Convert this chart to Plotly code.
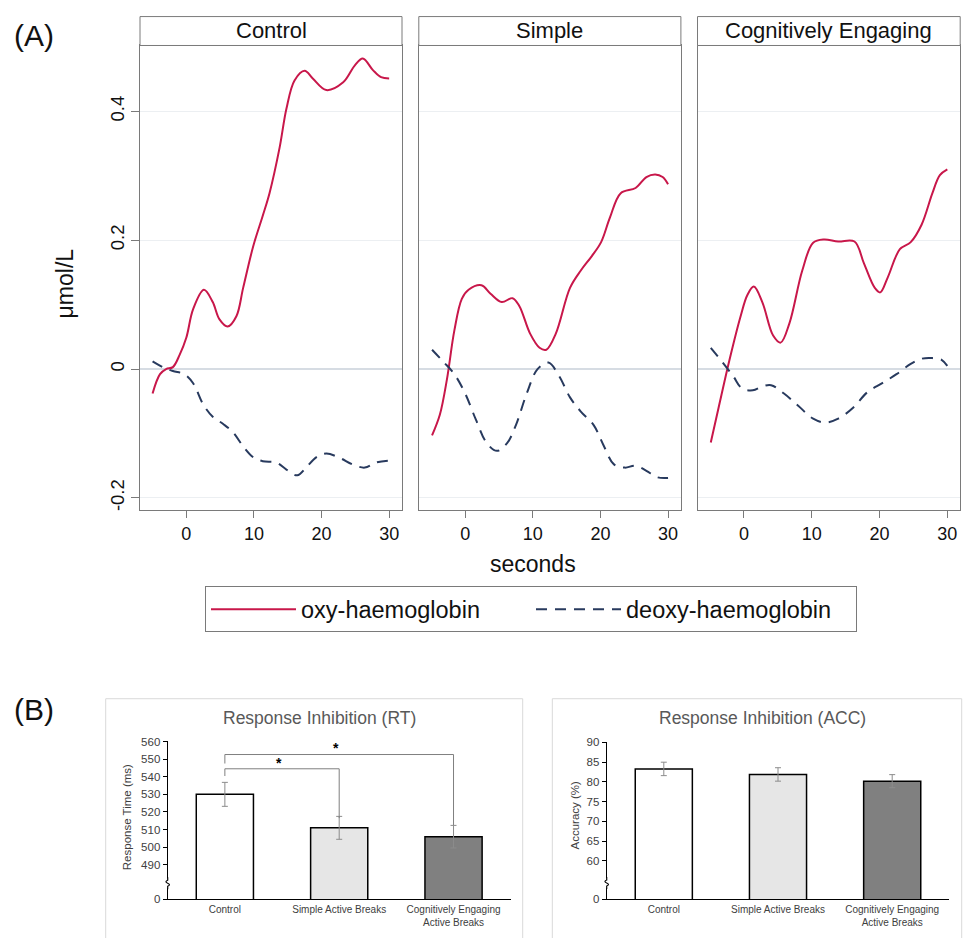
import plotly.graph_objects as go

W, H = 967, 938
FONT = "Liberation Sans, Arial, sans-serif"

# ---------------- Panel A data (seconds, umol/L) ----------------
PANELS = ["Control", "Simple", "Cognitively Engaging"]

CTRL_OXY_T = [-5.0, -3.9, -3.0, -2.0, -1.0, 0.0, 1.0, 2.6, 3.9, 4.9, 6.1, 7.4, 8.4, 9.9, 11.3, 12.3,
              13.8, 14.8, 16.0, 17.5, 18.7, 20.7, 23.2, 24.9, 26.1, 27.6, 28.8, 30.0]
CTRL_OXY = [-0.038, -0.008, 0.0, 0.003, 0.022, 0.049, 0.093, 0.123, 0.104, 0.077, 0.066, 0.082, 0.126,
            0.191, 0.238, 0.273, 0.344, 0.404, 0.448, 0.463, 0.451, 0.433, 0.445, 0.471, 0.482, 0.464,
            0.453, 0.451]
CTRL_DEOXY_T = [-5.0, -3.5, -2.0, -0.3, 1.0, 2.5, 3.9, 5.4, 6.9, 8.4, 9.9, 11.3, 13.3, 14.8, 16.4,
                17.7, 19.2, 20.7, 22.7, 24.6, 26.4, 28.1, 30.0]
CTRL_DEOXY = [0.012, 0.003, -0.003, -0.008, -0.022, -0.055, -0.074, -0.085, -0.098, -0.120, -0.137,
              -0.143, -0.145, -0.156, -0.165, -0.153, -0.137, -0.131, -0.138, -0.148, -0.153, -0.145,
              -0.142]

SIMP_OXY_T = [-4.9, -3.75, -2.7, -1.6, -0.5, 0.5, 2.4, 3.75, 5.4, 7.0, 8.0, 9.6, 11.0, 12.0, 13.4,
              15.5, 17.1, 18.7, 20.1, 21.4, 23.0, 25.2, 26.8, 28.1, 29.2, 30.0]
SIMP_OXY = [-0.103, -0.071, -0.016, 0.060, 0.109, 0.123, 0.130, 0.117, 0.104, 0.110, 0.098, 0.055,
            0.033, 0.030, 0.055, 0.126, 0.153, 0.175, 0.197, 0.235, 0.273, 0.281, 0.298, 0.302, 0.298,
            0.287]
SIMP_DEOXY_T = [-4.9, -3.2, -1.6, 0.0, 1.6, 3.2, 4.7, 6.2, 7.5, 9.1, 10.7, 12.3, 13.9, 15.5, 17.1,
                19.0, 20.4, 22.0, 23.6, 25.2, 26.8, 28.4, 30.0]
SIMP_DEOXY = [0.030, 0.011, -0.008, -0.038, -0.079, -0.115, -0.127, -0.115, -0.087, -0.038, 0.0,
              0.010, -0.011, -0.044, -0.066, -0.087, -0.117, -0.148, -0.153, -0.150, -0.158, -0.168,
              -0.169]

COG_OXY_T = [-4.9, -3.75, -2.1, -0.5, 0.5, 1.45, 2.7, 4.3, 5.4, 6.7, 8.6, 10.2, 11.8, 13.9, 16.3,
             17.7, 19.3, 20.1, 21.2, 23.0, 24.6, 26.2, 27.8, 28.9, 30.0]
COG_OXY = [-0.114, -0.060, 0.016, 0.082, 0.115, 0.128, 0.104, 0.052, 0.041, 0.071, 0.153, 0.196,
           0.201, 0.198, 0.198, 0.164, 0.126, 0.119, 0.142, 0.186, 0.197, 0.224, 0.273, 0.301, 0.310]
COG_DEOXY_T = [-4.9, -3.2, -1.6, -0.3, 1.3, 2.7, 4.0, 5.9, 8.0, 10.2, 12.0, 13.9, 16.1, 18.2, 20.4,
               22.5, 24.6, 26.2, 27.8, 29.2, 30.0]
COG_DEOXY = [0.033, 0.011, -0.011, -0.030, -0.033, -0.027, -0.025, -0.038, -0.057, -0.077, -0.083,
             -0.077, -0.060, -0.036, -0.022, -0.008, 0.008, 0.016, 0.017, 0.014, 0.005]

A_Y_TICKS = [-0.2, 0, 0.2, 0.4]
A_Y_TICKTEXT = ["-0.2", "0", "0.2", "0.4"]
A_X_TICKS = [0, 10, 20, 30]

# ---------------- Panel B data ----------------
GROUPS = ["Control", "Simple Active Breaks", "Cognitively Engaging<br>Active Breaks"]
RT_MEAN = [530.0, 511.0, 506.0]
RT_ERR = [6.8, 6.5, 6.4]
ACC_MEAN = [83.3, 81.9, 80.2]
ACC_ERR = [1.7, 1.7, 1.65]
RT_TICKS = [490, 500, 510, 520, 530, 540, 550, 560]
ACC_TICKS = [60, 65, 70, 75, 80, 85, 90]
RT_FLOOR = 470.4      # position of the "0" label below the axis break
ACC_FLOOR = 50.25
RT_BREAK = 479.6
ACC_BREAK = 54.4
# significance brackets: (from group, to group, top y, left leg end, right leg end, star x, star y)
RT_BRACKETS = [(0, 1, 544.5, 540.4, 516.5, 0.47, 548.0),
               (0, 2, 552.6, 547.5, 512.5, 0.976, 556.4)]

OXY_COLOR = "#c8174a"
DEOXY_COLOR = "#283a5e"
BAR_COLORS = ["#ffffff", "#e6e6e6", "#808080"]
FRAME = "#7a7a7a"


def px(x):
    return x / W


def py(y):
    return 1 - y / H


fig = go.Figure()

panel_data = [
    (CTRL_OXY_T, CTRL_OXY, CTRL_DEOXY_T, CTRL_DEOXY),
    (SIMP_OXY_T, SIMP_OXY, SIMP_DEOXY_T, SIMP_DEOXY),
    (COG_OXY_T, COG_OXY, COG_DEOXY_T, COG_DEOXY),
]
x_domains_px = [(140, 402), (418.8, 680.9), (697.5, 960.2)]
plot_top, plot_bot, strip_top = 40, 511, 10.7

for i, (ot, ov, dt, dv) in enumerate(panel_data):
    xa = "x" if i == 0 else f"x{i+1}"
    ya = "y" if i == 0 else f"y{i+1}"
    fig.add_trace(go.Scatter(x=ot, y=ov, mode="lines", name="oxy-haemoglobin",
                             line=dict(color=OXY_COLOR, width=2, shape="spline", smoothing=1.0),
                             xaxis=xa, yaxis=ya, showlegend=(i == 0), legendgroup="oxy"))
    fig.add_trace(go.Scatter(x=dt, y=dv, mode="lines", name="deoxy-haemoglobin",
                             line=dict(color=DEOXY_COLOR, width=2, dash="11px,8px",
                                       shape="spline", smoothing=1.0),
                             xaxis=xa, yaxis=ya, showlegend=(i == 0), legendgroup="deoxy"))

layout = dict(
    width=W, height=H, margin=dict(l=0, r=0, t=0, b=0),
    paper_bgcolor="white", plot_bgcolor="white",
    font=dict(family=FONT, color="#222222"),
    showlegend=True,
    legend=dict(orientation="h", x=px(531), xanchor="center", y=py(588), yanchor="top",
                bordercolor=FRAME, borderwidth=1, font=dict(size=23.5, color="#111111"),
                itemwidth=85, entrywidth=225, entrywidthmode="pixels", traceorder="normal",
                itemclick=False),
)

for i, (x0, x1) in enumerate(x_domains_px):
    sfx = "" if i == 0 else str(i + 1)
    layout[f"xaxis{sfx}"] = dict(
        domain=[px(x0), px(x1)], range=[-6.86, 31.9], anchor=f"y{sfx}",
        tickvals=A_X_TICKS, ticks="outside", ticklen=7, tickcolor=FRAME,
        tickfont=dict(size=18, color="#111111"), showgrid=False, zeroline=False,
        showline=True, linecolor=FRAME, linewidth=1, mirror=True,
    )
    layout[f"yaxis{sfx}"] = dict(
        domain=[py(plot_bot), py(plot_top)], range=[-0.2195, 0.5022], anchor=f"x{sfx}",
        tickvals=A_Y_TICKS, ticktext=A_Y_TICKTEXT, tickangle=-90,
        ticks="outside" if i == 0 else "", ticklen=8, tickcolor=FRAME,
        showticklabels=(i == 0), tickfont=dict(size=18.5, color="#111111"),
        showgrid=True, gridcolor="#eceff2", gridwidth=1,
        zeroline=True, zerolinecolor="#d6dce3", zerolinewidth=1.5,
        showline=True, linecolor=FRAME, linewidth=1, mirror=True,
    )

# Panel B axes
b_top, b_bot = 745, 905
layout["xaxis4"] = dict(domain=[px(167.7), px(510.7)], range=[-0.5, 2.5], anchor="y4",
                        tickvals=list(range(len(GROUPS))), ticktext=GROUPS, ticks="",
                        tickfont=dict(size=10, color="#404040"), showgrid=False, zeroline=False,
                        showline=True, linecolor="black", linewidth=1.2)
layout["yaxis4"] = dict(domain=[py(b_bot), py(b_top)], range=[RT_FLOOR, 560], anchor="x4",
                        tickvals=[RT_FLOOR] + RT_TICKS, ticktext=["0"] + [str(t) for t in RT_TICKS],
                        ticks="outside", ticklen=4, tickcolor="black",
                        tickfont=dict(size=11.5, color="#404040"), showgrid=False, zeroline=False,
                        showline=True, linecolor="black", linewidth=1.2)
layout["xaxis5"] = dict(domain=[px(606.7), px(949.3)], range=[-0.5, 2.5], anchor="y5",
                        tickvals=list(range(len(GROUPS))), ticktext=GROUPS, ticks="",
                        tickfont=dict(size=10, color="#404040"), showgrid=False, zeroline=False,
                        showline=True, linecolor="black", linewidth=1.2)
layout["yaxis5"] = dict(domain=[py(b_bot), py(746)], range=[ACC_FLOOR, 90], anchor="x5",
                        tickvals=[ACC_FLOOR] + ACC_TICKS, ticktext=["0"] + [str(t) for t in ACC_TICKS],
                        ticks="outside", ticklen=4, tickcolor="black",
                        tickfont=dict(size=11.5, color="#404040"), showgrid=False, zeroline=False,
                        showline=True, linecolor="black", linewidth=1.2)

fig.update_layout(**layout)

xs = list(range(len(GROUPS)))
fig.add_trace(go.Bar(x=xs, y=RT_MEAN, width=0.5, xaxis="x4", yaxis="y4", showlegend=False,
                     marker=dict(color=BAR_COLORS, line=dict(color="black", width=1.5)),
                     error_y=dict(type="data", array=RT_ERR, color="#8c8c8c", thickness=1, width=3)))
fig.add_trace(go.Bar(x=xs, y=ACC_MEAN, width=0.5, xaxis="x5", yaxis="y5", showlegend=False,
                     marker=dict(color=BAR_COLORS, line=dict(color="black", width=1.5)),
                     error_y=dict(type="data", array=ACC_ERR, color="#8c8c8c", thickness=1, width=3)))

shapes = []
annotations = []

# strip headers
for i, (x0, x1) in enumerate(x_domains_px):
    shapes.append(dict(type="rect", xref="paper", yref="paper", x0=px(x0), x1=px(x1),
                       y0=py(plot_top), y1=py(strip_top), line=dict(color=FRAME, width=1),
                       fillcolor="white", layer="above"))
    annotations.append(dict(text=PANELS[i], xref="paper", yref="paper", x=px((x0 + x1) / 2),
                            y=py((plot_top + strip_top) / 2 - 1), showarrow=False,
                            font=dict(size=22, color="#111111"), xanchor="center", yanchor="middle"))

# Panel B frames
shapes.append(dict(type="rect", xref="paper", yref="paper", x0=px(105.7), x1=px(522.7),
                   y0=py(950), y1=py(701.7), line=dict(color="#d9d9d9", width=1), layer="below"))
shapes.append(dict(type="rect", xref="paper", yref="paper", x0=px(552.3), x1=px(961.7),
                   y0=py(950), y1=py(701.7), line=dict(color="#d9d9d9", width=1), layer="below"))

# significance brackets
for (g0, g1, top, leg0, leg1, sx, sy) in RT_BRACKETS:
    shapes.append(dict(type="path", xref="x4", yref="y4",
                       path=f"M {g0},{leg0} L {g0},{top} L {g1},{top} L {g1},{leg1}",
                       line=dict(color="#7f7f7f", width=1)))
    annotations.append(dict(text="<b>*</b>", xref="x4", yref="y4", x=sx, y=sy, showarrow=False,
                            font=dict(size=14, color="#000000"), xanchor="center", yanchor="middle"))

# axis breaks
for xr, yr, yb in [("x4 domain", "y4", RT_BREAK), ("x5 domain", "y5", ACC_BREAK)]:
    shapes.append(dict(type="line", xref=xr, yref=yr, xsizemode="pixel", ysizemode="pixel",
                       xanchor=0, yanchor=yb, x0=0, x1=0, y0=-5, y1=5,
                       line=dict(color="white", width=4), layer="above"))
    shapes.append(dict(type="path", xref=xr, yref=yr, xsizemode="pixel", ysizemode="pixel",
                       xanchor=0, yanchor=yb,
                       path="M 0,-6 L 0,-3 Q 3.5,-1.5 0,0 Q -3.5,1.5 0,3 L 0,6",
                       line=dict(color="black", width=1.2), layer="above"))

# texts
annotations += [
    dict(text="(A)", x=px(34), y=py(30), font=dict(size=30, color="#111111")),
    dict(text="(B)", x=px(34), y=py(713), font=dict(size=30, color="#111111")),
    dict(text="μmol/L", x=px(65), y=py(281), textangle=-90, font=dict(size=23, color="#111111")),
    dict(text="seconds", x=px(533), y=py(565), font=dict(size=23, color="#111111")),
    dict(text="Response Inhibition (RT)", x=px(319), y=py(721), font=dict(size=17.5, color="#595959")),
    dict(text="Response Inhibition (ACC)", x=px(762.4), y=py(721), font=dict(size=17.5, color="#595959")),
    dict(text="Response Time (ms)", x=px(127), y=py(821.7), textangle=-90,
         font=dict(size=11.5, color="#404040")),
    dict(text="Accuracy (%)", x=px(575), y=py(820), textangle=-90,
         font=dict(size=11.5, color="#404040")),
]
for a in annotations[-8:]:
    a.update(xref="paper", yref="paper", showarrow=False, xanchor="center", yanchor="middle")

fig.update_layout(shapes=shapes, annotations=annotations)
fig.write_html("out.html", config={"displayModeBar": False},
               post_script="document.body.style.margin='0';document.body.style.overflow='hidden';")
